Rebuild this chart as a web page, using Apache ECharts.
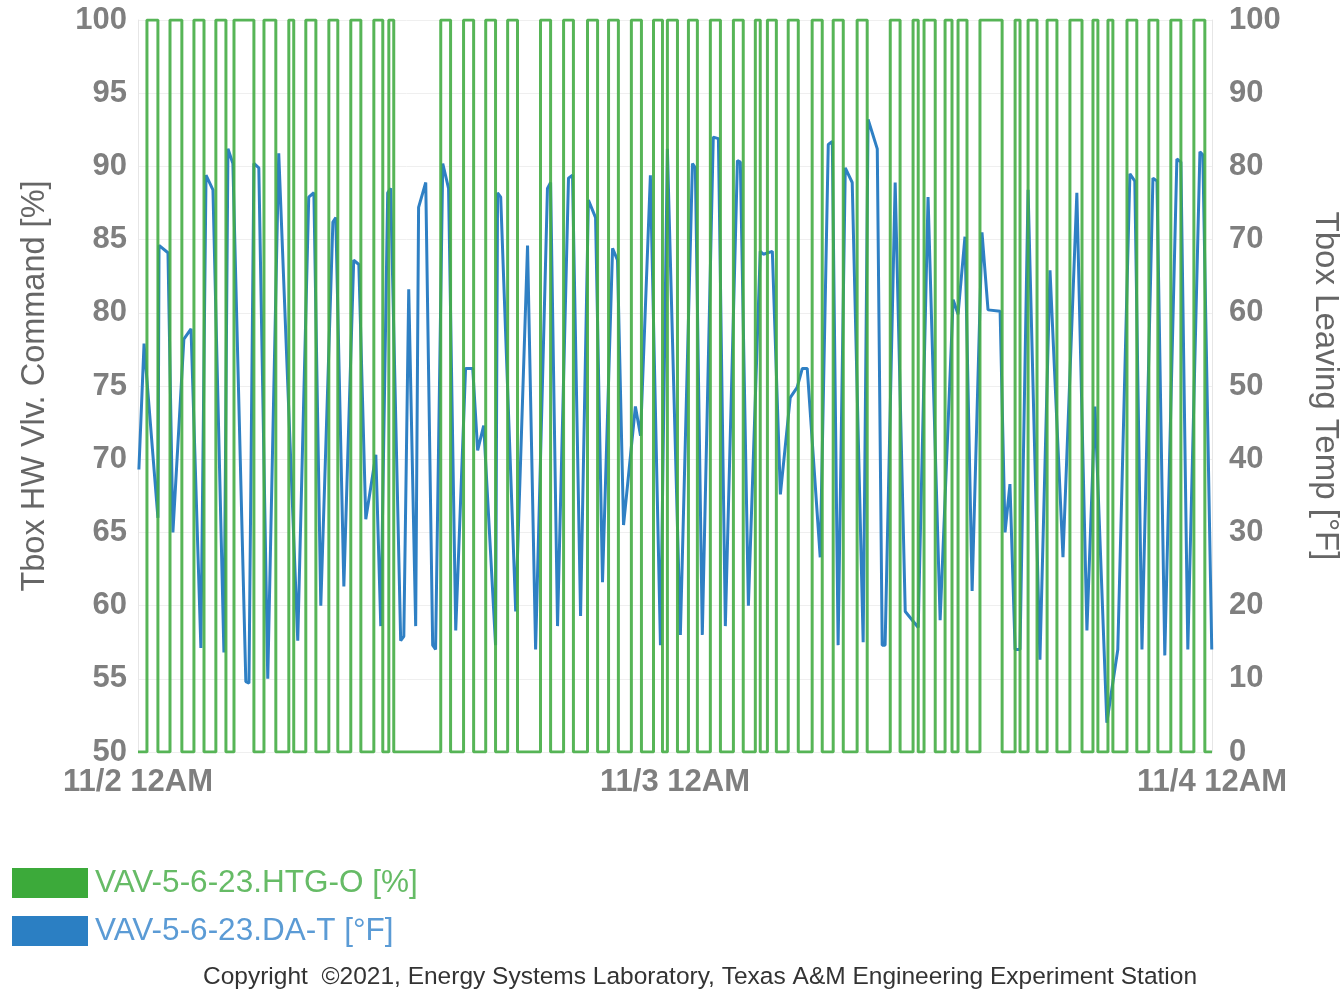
<!DOCTYPE html>
<html><head><meta charset="utf-8">
<script src="https://cdn.jsdelivr.net/npm/echarts@6/dist/echarts.min.js"></script>
<style>html,body{margin:0;padding:0;background:#fff}#c{width:1341px;height:992px}</style>
</head><body><div id="c"></div>
<script>
// x axis in hours from 11/2 12AM
const xTickLabels = {0: '11/2 12AM', 24: '11/3 12AM', 48: '11/4 12AM'};
const seriesNames = ['VAV-5-6-23.HTG-O [%]', 'VAV-5-6-23.DA-T [°F]'];
const leftAxisTitle = 'Tbox HW Vlv. Command [%]';
const rightAxisTitle = 'Tbox Leaving Temp [°F]';
const copyrightText = 'Copyright  ©2021, Energy Systems Laboratory, Texas A&M Engineering Experiment Station';

// Heating valve command: [on hour, off hour] — 100 % between, 0 % otherwise
const htgPulses = [
  [0.40, 0.89], [1.43, 1.96], [2.50, 2.95], [3.48, 3.93], [4.29, 5.18], [5.63, 6.16],
  [6.74, 6.96], [7.50, 7.95], [8.53, 8.93], [9.51, 9.96], [10.54, 10.94], [11.21, 11.43],
  [13.53, 13.97], [14.55, 15.00], [15.54, 15.98], [16.52, 16.96], [17.99, 18.44], [19.02, 19.46],
  [20.09, 20.54], [21.03, 21.47], [22.05, 22.50], [23.04, 23.44], [23.66, 24.11], [24.60, 25.00],
  [25.58, 26.03], [26.61, 27.05], [27.59, 27.81], [28.13, 28.53], [29.06, 29.51], [30.13, 30.58],
  [31.07, 31.52], [32.14, 32.59], [33.62, 34.06], [34.64, 34.87], [35.13, 35.63], [36.07, 36.38],
  [36.65, 37.05], [37.63, 38.62], [39.20, 39.42], [39.78, 40.18], [40.63, 41.07], [41.65, 42.19],
  [42.68, 42.90], [43.35, 43.57], [44.20, 44.64], [45.18, 45.58], [46.16, 46.61], [47.19, 47.68]
];

// Discharge air temperature samples
const daHours = [
  0.04, 0.27, 0.89, 0.94, 1.34, 1.56, 2.05, 2.37, 2.81, 3.04, 3.35, 3.84, 4.02, 4.24, 4.82, 4.96,
  5.18, 5.40, 5.80, 6.29, 7.14, 7.63, 7.86, 8.17, 8.71, 8.84, 9.20, 9.64, 9.87, 10.18, 10.63, 10.85,
  11.16, 11.29, 11.74, 11.88, 12.10, 12.41, 12.54, 12.86, 13.17, 13.30, 13.62, 13.88, 14.20, 14.64,
  14.96, 15.18, 15.45, 15.98, 16.07, 16.21, 16.88, 17.41, 17.77, 18.30, 18.44, 18.75, 19.24, 19.42,
  19.78, 20.13, 20.45, 20.76, 21.21, 21.43, 21.70, 22.23, 22.46, 22.90, 23.35, 23.66, 24.24, 24.78,
  24.91, 25.22, 25.71, 25.94, 26.25, 26.79, 26.92, 27.28, 27.81, 27.95, 28.35, 28.71, 29.15, 29.46,
  29.69, 29.91, 30.49, 30.85, 31.03, 31.29, 31.61, 31.92, 32.41, 32.63, 33.04, 33.26, 33.39, 33.84,
  34.29, 34.87, 35.31, 35.85, 36.43, 36.65, 36.96, 37.28, 37.72, 37.99, 38.53, 38.75, 38.97, 39.20,
  39.42, 39.78, 40.31, 40.76, 41.34, 41.96, 42.41, 42.77, 43.30, 43.79, 44.33, 44.55, 44.87, 45.36,
  45.54, 45.89, 46.43, 46.61, 46.92, 47.46, 47.59, 47.99
];
const daTemps = [
  69.3, 77.9, 66.0, 84.6, 84.1, 65.0, 78.2, 78.9, 57.1, 89.4, 88.4, 56.8, 91.2, 90.2, 54.8, 54.7,
  90.2, 89.9, 55.0, 90.9, 57.6, 87.9, 88.2, 60.0, 86.2, 86.5, 61.3, 83.6, 83.3, 65.9, 70.3, 58.6,
  88.2, 88.5, 57.6, 57.9, 81.6, 58.6, 87.2, 88.9, 57.3, 57.0, 90.2, 88.5, 58.3, 76.2,
  76.2, 70.6, 72.3, 57.3, 88.2, 87.9, 59.6, 84.6, 57.0, 88.5, 88.9, 58.6, 89.2, 89.4,
  59.3, 87.7, 86.5, 61.6, 84.4, 83.6, 65.5, 73.6, 71.6, 89.4, 57.3, 91.2, 58.0, 90.2,
  89.9, 58.0, 92.0, 91.9, 58.6, 90.4, 90.3, 60.0, 84.2, 84.0, 84.2, 67.6, 74.2, 74.9,
  76.2, 76.2, 63.3, 91.5, 91.7, 57.3, 89.9, 88.9, 57.5, 93.2, 91.2, 57.3, 57.3, 88.9,
  59.6, 58.5, 87.9, 59.0, 80.9, 79.9, 85.2, 61.0, 85.5, 80.2, 80.1, 65.0, 68.3, 57.0,
  57.0, 88.4, 56.3, 82.9, 63.3, 88.2, 58.3, 73.6, 52.0, 57.0, 89.5, 89.0, 57.0, 89.2,
  89.0, 56.6, 90.5, 90.3, 57.0, 91.0, 90.8, 57.0
];

const htgData = [[0, 0]];
htgPulses.forEach(function (p) {
  htgData.push([p[0], 0], [p[0], 100], [p[1], 100], [p[1], 0]);
});
htgData.push([48, 0]);
const daData = daHours.map(function (h, i) { return [h, daTemps[i]]; });

const FONT = 'Liberation Sans, Arial, sans-serif';
const chart = echarts.init(document.getElementById('c'), null, {renderer: 'canvas'});
const labelStyle = {color: '#7f7f7f', fontWeight: 'bold', fontSize: 31, fontFamily: FONT};
chart.setOption({
  animation: false,
  backgroundColor: '#ffffff',
  grid: {left: 138, right: 129, top: 20, bottom: 240, containLabel: false, outerBoundsMode: 'none'},
  legend: {
    orient: 'vertical', left: 12, top: 867, padding: 0, itemWidth: 76, itemHeight: 30, itemGap: 16, icon: 'rect',
    textStyle: {fontSize: 31.5, fontFamily: FONT, padding: [0, 0, 0, 2]},
    data: [
      {name: seriesNames[0], textStyle: {color: '#66bb66'}},
      {name: seriesNames[1], textStyle: {color: '#5b9bd5'}}
    ]
  },
  graphic: [{
    type: 'text', left: 203, top: 965,
    style: {text: copyrightText, fontSize: 24.5, fill: '#333333', fontFamily: FONT}
  }],
  xAxis: {
    type: 'value', min: 0, max: 48, interval: 24,
    axisLine: {show: false}, axisTick: {show: false}, splitLine: {show: false},
    axisLabel: Object.assign({margin: 15, formatter: function (v) { return xTickLabels[v] || ''; }}, labelStyle)
  },
  yAxis: [{
    type: 'value', min: 50, max: 100, interval: 5, position: 'left',
    name: leftAxisTitle, nameLocation: 'middle', nameGap: 86, nameRotate: 90,
    nameTextStyle: {color: '#666666', fontSize: 32.5, fontFamily: FONT},
    axisLine: {show: true, lineStyle: {color: '#e6e6e6'}}, axisTick: {show: false},
    splitLine: {show: true, lineStyle: {color: '#efefef'}},
    axisLabel: Object.assign({margin: 11}, labelStyle)
  }, {
    type: 'value', min: 0, max: 100, interval: 10, position: 'right',
    name: rightAxisTitle, nameLocation: 'middle', nameGap: 97, nameRotate: -90,
    nameTextStyle: {color: '#666666', fontSize: 33, fontFamily: FONT},
    axisLine: {show: true, lineStyle: {color: '#e6e6e6'}}, axisTick: {show: false},
    splitLine: {show: false},
    axisLabel: Object.assign({margin: 17}, labelStyle)
  }],
  series: [{
    name: seriesNames[0], type: 'line', yAxisIndex: 1, data: htgData, showSymbol: false, symbol: 'none',
    z: 3, color: '#3caa3a',
    lineStyle: {width: 3, color: '#45ad45', opacity: 0.9}
  }, {
    name: seriesNames[1], type: 'line', yAxisIndex: 0, data: daData, showSymbol: false, symbol: 'none',
    z: 2, color: '#2b7fc3',
    lineStyle: {width: 3, color: '#2f80c4'}
  }]
});
</script></body></html>
